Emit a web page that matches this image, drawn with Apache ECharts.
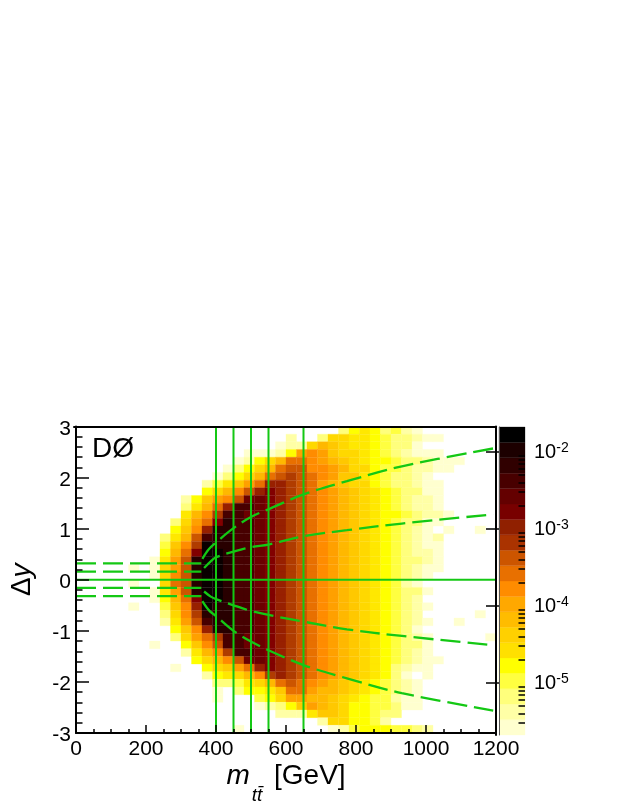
<!DOCTYPE html>
<html><head><meta charset="utf-8">
<style>html,body{margin:0;padding:0;background:#fff}#c{width:623px;height:806px}</style>
<script src="https://cdn.jsdelivr.net/npm/echarts@6/dist/echarts.min.js"></script>
</head><body><div id="c"></div>
<script>
const xBinWidth = 30, yBinWidth = 0.15, yTop = 3;
// One string per row from Δy=3 downward, one base-36 colour band per 30 GeV bin (0 = empty).
const cellRows = [
"0000000000 0000000000 0000035653 4210000000",
"0000000000 0000000000 2003776654 3321100000",
"0000000000 0000000001 2279876654 3310000000",
"0000000000 0000001112 5aba877654 3211100000",
"0000000000 0000012579 ccba987655 4332111000",
"0000000000 000013579c ddbba97754 4322110000",
"0000000000 00013579cd edcba88654 3321000000",
"0000000000 002468acff edca987754 3321100000",
"0000000000 00579bdfgf edcba98765 4331100000",
"0000000000 258abdhhgf edcba98765 4322100000",
"0000000000 369cfiihgf edcba98765 4322100000",
"0000000000 69beiihhgf edcba98765 5432210000",
"0000000003 7acgjiihgf edcba98765 4331100000",
"0000000005 8bfjjiihgf edcba98765 4321010010",
"0000000036 9dijjiihgf edcba98765 4321200000",
"0000000048 bekjjiihgf edcba98765 4321100000",
"0000000059 cgkkjiihgf edcba98765 4322100000",
"000000016a djkkjiihgf edcba98765 4332100000",
"000001017a djkkjiihgf edcba98765 4321100000",
"000000017b djkkjiihgf edcba98765 4321000000",
"000001007c djkkjiihgf edcba98765 4210000000",
"000000016a djkkjiihgf edcba98765 4331000000",
"0000000159 cgkkjiihgf edcba98765 4320000000",
"0000010048 bfkjjiihgf edcba98765 4321000000",
"0000000037 bejjjiihgf edcba98765 4320000010",
"0000000026 adijjiihgf edcba98765 4321001000",
"0000000005 8bfjjiihgf edcba98765 4310000000",
"0000000003 7aceiihhgf edcba98765 4321000001",
"0000000100 58bdiihhgf edcba98765 4331000000",
"0000000000 269beiihgf edcba98765 4321000000",
"0000000000 0579bdhhgf edcba98765 4321100000",
"0000000001 00578acfgf edcba98765 3211000000",
"0000000000 00256 79bef edcba98765 3101000000",
"0000000000 000334679c dcba987654 3210000000",
"0000000000 0001035568 cca9987654 3210000000",
"0000000000 0001000457 aa99876544 2110000000",
"0000000000 0000000123 58a9875544 3110000000",
"0000000000 0000000002 2268875543 3000000000",
"0000000000 0000000000 0002775542 0000000000",
"0000000000 0000010000 0000124555 4432000000"
];
// colours of the estimated cell levels, index 1..20
const cellColors = [null,"#ffffcf","#ffffa6","#ffff7c","#ffff40","#ffff00","#ffe800","#ffd800","#ffc800","#ffb800","#ffa000","#ff8c00","#e87000","#cc5500","#b03c00","#982000","#820000","#6c0000","#480000","#280000","#0a0000"];
// palette bar bands from bottom to top
const barColors = ["#ffffcf","#ffffa6","#ffff7c","#ffff40","#ffff00","#ffe000","#ffd000","#ffbc00","#ffa800","#ff8c00","#e87000","#cc5500","#aa3300","#902000","#780000","#640000","#480000","#300000","#1c0000","#000000"];
const barMin = 2.1e-6, barMax = 2.1e-2;
const barDecades = [1e-5,1e-4,1e-3,1e-2];
const barMinor = [3e-6,4e-6,5e-6,6e-6,7e-6,8e-6,9e-6,2e-5,3e-5,4e-5,5e-5,6e-5,7e-5,8e-5,9e-5,2e-4,3e-4,4e-4,5e-4,6e-4,7e-4,8e-4,9e-4,2e-3,3e-3,4e-3,5e-3,6e-3,7e-3,8e-3,9e-3,2e-2];
const verticalCuts = [400,450,500,550,650];
const horizontalDashes = [0.32,0.16,-0.16,-0.32];
const curveUpperOuter = [[361,0.41],[380,0.60],[400,0.73],[450,1.01],[500,1.23],[550,1.38],[650,1.67],[774,1.93],[931,2.22],[1192,2.57]];
const curveUpperInner = [[366,0.23],[385,0.36],[400,0.44],[450,0.55],[500,0.64],[550,0.69],[650,0.85],[774,0.97],[931,1.10],[1192,1.28]];
const curveLowerInner = [[366,-0.23],[385,-0.33],[400,-0.38],[450,-0.50],[500,-0.61],[550,-0.69],[650,-0.82],[774,-0.97],[931,-1.10],[1192,-1.28]];
const curveLowerOuter = [[361,-0.42],[380,-0.60],[400,-0.71],[450,-1.00],[500,-1.21],[550,-1.38],[650,-1.67],[774,-1.93],[931,-2.22],[1192,-2.56]];

const FONT = '"Liberation Sans", Arial, sans-serif';
const GREEN = '#14c814';
const cells = [];
cellRows.forEach((row, r) => {
  row.replace(/ /g,'').split('').forEach((ch, c) => {
    const lv = parseInt(ch, 36);
    if (lv > 0) cells.push([c*xBinWidth, yTop - r*yBinWidth, lv]);
  });
});
const logStep = (Math.log10(barMax)-Math.log10(barMin))/barColors.length;
const barBands = barColors.map((col,i)=>[Math.pow(10,Math.log10(barMin)+i*logStep),Math.pow(10,Math.log10(barMin)+(i+1)*logStep),i]);

function cellRender(p, api){
  const x=api.value(0), y=api.value(1);
  const a=api.coord([x,y]), b=api.coord([x+xBinWidth,y-yBinWidth]);
  return {type:'rect',shape:{x:a[0],y:a[1],width:b[0]-a[0],height:b[1]-a[1]},style:{fill:cellColors[api.value(2)],stroke:cellColors[api.value(2)],lineWidth:0.3}};
}
function barRender(p, api){
  const a=api.coord([0,api.value(1)]), b=api.coord([1,api.value(0)]);
  const col=barColors[api.value(2)];
  return {type:'rect',shape:{x:a[0],y:a[1],width:b[0]-a[0],height:b[1]-a[1]},style:{fill:col,stroke:col,lineWidth:0.3}};
}
const lineBase = {type:'line',showSymbol:false,symbol:'none',silent:true,animation:false,z:5};
const series = [
 {type:'custom',renderItem:cellRender,data:cells,encode:{x:0,y:1},silent:true,animation:false,z:2,clip:true},
 {type:'custom',xAxisIndex:2,yAxisIndex:2,renderItem:barRender,data:barBands,silent:true,animation:false,z:2},
];
verticalCuts.forEach(x=>series.push({...lineBase,data:[[x,-3],[x,3]],lineStyle:{color:GREEN,width:2}}));
series.push({...lineBase,data:[[0,0],[1200,0]],lineStyle:{color:GREEN,width:2}});
horizontalDashes.forEach(y=>series.push({...lineBase,data:[[0,y],[358,y]],lineStyle:{color:GREEN,width:2.3,type:[20,7]}}));
[curveUpperOuter,curveUpperInner,curveLowerInner,curveLowerOuter].forEach(d=>series.push({...lineBase,data:d,smooth:0.35,lineStyle:{color:GREEN,width:2.3,type:[20,7]}}));

const frameLine = {show:true,onZero:false,lineStyle:{color:'#000',width:2}};
const chart = echarts.init(document.getElementById('c'),null,{renderer:'canvas'});
chart.setOption({
 animation:false,backgroundColor:'#fff',
 title:{text:'DØ',left:87,top:430,textStyle:{fontFamily:FONT,fontSize:28,fontWeight:'normal',color:'#000'}},
 grid:[
  {left:74,top:426.5,width:422,height:308.5,containLabel:false,show:false},
  {left:74,top:426.5,width:422,height:308.5,containLabel:false,show:false},
  {left:499,top:427,width:26,height:308,containLabel:false,show:false}
 ],
 xAxis:[
  {type:'value',gridIndex:0,min:0,max:1200,interval:200,z:10,axisLine:frameLine,
   axisTick:{inside:true,length:8,lineStyle:{color:'#000',width:1.5}},
   minorTick:{show:true,splitNumber:4,length:4,lineStyle:{color:'#000',width:1.5}},splitLine:{show:false},
   axisLabel:{fontFamily:FONT,fontSize:21,color:'#000',margin:6,hideOverlap:false,formatter:v=>String(v)},
   name:'{m|m}{s|tt\u0304}{r| [GeV]}',nameLocation:'middle',nameGap:29,
   nameTextStyle:{rich:{
    m:{fontFamily:FONT,fontStyle:'italic',fontSize:28,color:'#000',verticalAlign:'top',lineHeight:43},
    s:{fontFamily:FONT,fontStyle:'italic',fontSize:19,color:'#000',verticalAlign:'bottom',lineHeight:43,padding:[0,4,0,2]},
    r:{fontFamily:FONT,fontSize:28,color:'#000',verticalAlign:'top',lineHeight:43}}}},
  {type:'value',gridIndex:1,position:'top',min:0,max:1200,z:10,axisLine:frameLine,axisTick:{show:false},axisLabel:{show:false},splitLine:{show:false}},
  {type:'value',gridIndex:2,min:0,max:1,show:false}
 ],
 yAxis:[
  {type:'value',gridIndex:0,min:-3,max:3,interval:1,z:10,axisLine:frameLine,
   axisTick:{inside:true,length:13,lineStyle:{color:'#000',width:1.5}},
   minorTick:{show:true,splitNumber:5,length:6.5,lineStyle:{color:'#000',width:1.5}},splitLine:{show:false},
   axisLabel:{margin:5,hideOverlap:false,formatter:v=>'{a|'+v+'}',
     rich:{a:{fontFamily:FONT,fontSize:21,color:'#000',padding:[5,0,0,0]}}},
   name:'{d|\u0394}{y|y}',nameLocation:'middle',nameGap:40,nameRotate:90,
   nameTextStyle:{rich:{d:{fontFamily:FONT,fontSize:28,color:'#000'},y:{fontFamily:FONT,fontStyle:'italic',fontSize:28,color:'#000'}}}},
  {type:'value',gridIndex:1,position:'right',min:-3,max:3,z:10,axisLine:frameLine,axisTick:{show:false},axisLabel:{show:false},splitLine:{show:false}},
  {type:'log',logBase:10,gridIndex:2,position:'right',min:barMin,max:barMax,z:10,
   axisLine:{show:true,lineStyle:{color:'#555',width:1}},
   axisTick:{inside:true,length:13,customValues:barDecades,lineStyle:{color:'#000',width:1.5}},
   splitLine:{show:false},minorTick:{show:false},
   axisLabel:{customValues:barDecades,margin:9,hideOverlap:false,
     formatter:v=>'{b|10}{s|'+Math.round(Math.log10(v))+'}',
     rich:{b:{fontFamily:FONT,fontSize:20,color:'#000',verticalAlign:'bottom',lineHeight:22},
           s:{fontFamily:FONT,fontSize:14,color:'#000',verticalAlign:'top',lineHeight:22}}}},
  {type:'log',logBase:10,gridIndex:2,position:'right',min:barMin,max:barMax,z:10,
   axisLine:{show:false},axisLabel:{show:false},splitLine:{show:false},
   axisTick:{inside:true,length:6.5,customValues:barMinor,lineStyle:{color:'#000',width:1.5}}}
 ],
 series
});
</script></body></html>
